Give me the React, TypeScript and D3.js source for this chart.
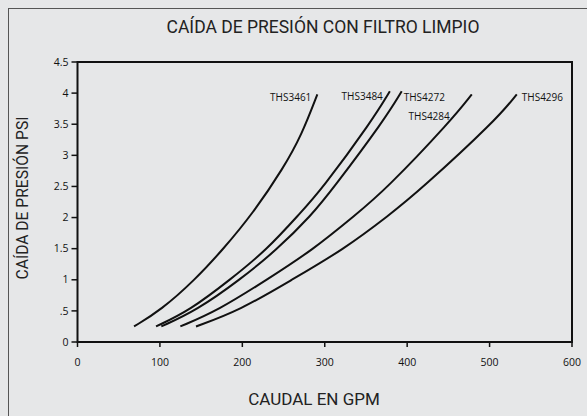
import { useMemo } from 'react';
import * as d3 from 'd3';

type Pt = [number, number];

// caudal (GPM), caída de presión (PSI)
const ths3461: Pt[] = [[68.6, 0.25], [101, 0.51], [142.6, 1.0], [176, 1.48], [213, 2.07], [250, 2.8], [272, 3.33], [291, 3.98]];
const ths3484: Pt[] = [[95.3, 0.25], [136.5, 0.51], [185, 1.0], [229.6, 1.48], [270, 2.07], [295.5, 2.44], [358, 3.57], [379, 4.03]];
const ths4272: Pt[] = [[101.7, 0.25], [144.7, 0.51], [197, 1.0], [241.7, 1.48], [284, 2.04], [308.5, 2.44], [372.3, 3.57], [393.4, 4.03]];
const ths4284: Pt[] = [[124.8, 0.25], [170.9, 0.51], [229.6, 1.0], [285.4, 1.48], [337, 2.04], [373.2, 2.44], [454, 3.57], [478.4, 3.98]];
const ths4296: Pt[] = [[143.8, 0.25], [197.2, 0.51], [260, 1.0], [322, 1.48], [378.4, 2.04], [415.6, 2.44], [508, 3.57], [533, 3.98]];

const seriesNames = ['THS3461', 'THS3484', 'THS4272', 'THS4284', 'THS4296'];
const seriesData = [ths3461, ths3484, ths4272, ths4284, ths4296];

const xTicks = [0, 100, 200, 300, 400, 500, 600];
const yTicks = [0, 0.5, 1, 1.5, 2, 2.5, 3, 3.5, 4, 4.5];
const yTickLabels = ['0', '.5', '1', '1.5', '2', '2.5', '3', '3.5', '4', '4.5'];

const title = 'CAÍDA DE PRESIÓN CON FILTRO LIMPIO';
const xTitle = 'CAUDAL EN GPM';
const yTitle = 'CAÍDA DE PRESIÓN PSI';

// label placement relative to the top end of each curve
const labelOffsets: { dx: number; dy: number; anchor: string }[] = [
  { dx: -6, dy: 7, anchor: 'end' },
  { dx: -7, dy: 9, anchor: 'end' },
  { dx: 2, dy: 10, anchor: 'start' },
  { dx: -22, dy: 26, anchor: 'end' },
  { dx: 5, dy: 7, anchor: 'start' },
];

const W = 587;
const H = 416;
const BG = '#e6e7e8';
const tickFont = '"Open Sans", sans-serif';
const titleFont = 'Roboto, sans-serif';

export default function App() {
  const x = useMemo(() => d3.scaleLinear().domain([0, 600]).range([77.5, 572]), []);
  const y = useMemo(() => d3.scaleLinear().domain([0, 4.5]).range([342, 62]), []);

  const line = d3
    .line<Pt>()
    .x((d) => x(d[0]))
    .y((d) => y(d[1]))
    .curve(d3.curveBasis);

  const [x0, x1] = x.range();
  const [y0, y1] = y.range();

  return (
    <svg
      width={W}
      height={H}
      style={{ position: 'absolute', left: 0, top: 0, display: 'block', background: BG }}
    >
      <rect x={0} y={0} width={W} height={H} fill={BG} />
      {/* outer frame, only top and left show in the crop */}
      <line x1={8.5} x2={8.5} y1={8} y2={H} stroke="#555" strokeWidth={1} />
      <line x1={8} x2={W} y1={8.5} y2={8.5} stroke="#555" strokeWidth={1} />

      <text x={323} y={33} textAnchor="middle" fontFamily={titleFont} fontSize={17.5} fill="#222">
        {title}
      </text>

      {/* y ticks */}
      {yTicks.map((t, i) => (
        <g key={t}>
          <line x1={x0 - 6} x2={x0} y1={y(t)} y2={y(t)} stroke="#111" strokeWidth={1.5} />
          <text
            x={x0 - 9}
            y={y(t)}
            dy="0.35em"
            textAnchor="end"
            fontFamily={tickFont}
            fontSize={10.5}
            fill="#111"
          >
            {yTickLabels[i]}
          </text>
        </g>
      ))}

      {/* x ticks */}
      {xTicks.map((t) => (
        <g key={t}>
          <line x1={x(t)} x2={x(t)} y1={y0} y2={y0 + 5} stroke="#111" strokeWidth={1.5} />
          <text
            x={x(t)}
            y={y0 + 24}
            textAnchor="middle"
            fontFamily={tickFont}
            fontSize={10.5}
            fill="#111"
          >
            {t}
          </text>
        </g>
      ))}

      {/* plot frame */}
      <rect x={x0} y={y1} width={x1 - x0} height={y0 - y1} fill="none" stroke="#111" strokeWidth={2} />

      {seriesData.map((d, i) => (
        <path key={seriesNames[i]} d={line(d) ?? ''} fill="none" stroke="#111" strokeWidth={2} />
      ))}

      {seriesData.map((d, i) => {
        const last = d[d.length - 1];
        const o = labelOffsets[i];
        return (
          <text
            key={seriesNames[i]}
            x={x(last[0]) + o.dx}
            y={y(last[1]) + o.dy}
            textAnchor={o.anchor}
            fontFamily={tickFont}
            fontSize={10}
            fill="#111"
          >
            {seriesNames[i]}
          </text>
        );
      })}

      <text x={314} y={405} textAnchor="middle" fontFamily={titleFont} fontSize={17} fill="#222">
        {xTitle}
      </text>
      <text
        transform={`translate(28,198) rotate(-90)`}
        textAnchor="middle"
        fontFamily={titleFont}
        fontSize={16.5}
        textLength={163}
        lengthAdjust="spacingAndGlyphs"
        fill="#222"
      >
        {yTitle}
      </text>
    </svg>
  );
}
